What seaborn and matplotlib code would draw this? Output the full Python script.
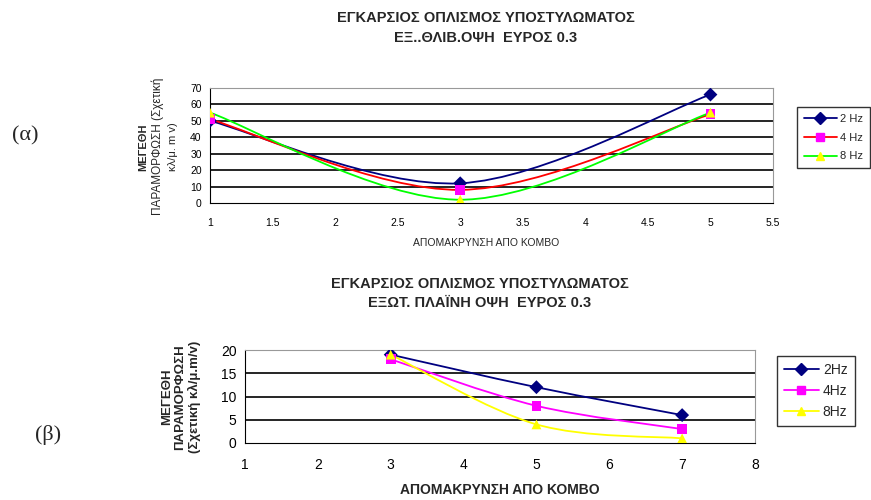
import numpy as np
import pandas as pd
import seaborn as sns
import matplotlib.pyplot as plt
from matplotlib.path import Path
from matplotlib.patches import PathPatch
from matplotlib.lines import Line2D

# panel (a) data
dist_a = [1, 3, 5]
hz2_a = [50, 12, 66]
hz4_a = [51, 8, 54]
hz8_a = [55, 2, 55]

# panel (b) data
dist_b = [3, 5, 7]
hz2_b = [19, 12, 6]
hz4_b = [18, 8, 3]
hz8_b = [19, 4, 1]

freqs = ['2 Hz', '4 Hz', '8 Hz']
title1 = 'ΕΓΚΑΡΣΙΟΣ ΟΠΛΙΣΜΟΣ ΥΠΟΣΤΥΛΩΜΑΤΟΣ'
title_a = 'ΕΞ..ΘΛΙΒ.ΟΨΗ  ΕΥΡΟΣ 0.3'
title_b = 'ΕΞΩΤ. ΠΛΑΪΝΗ ΟΨΗ  ΕΥΡΟΣ 0.3'
xlab = 'ΑΠΟΜΑΚΡΥΝΣΗ ΑΠΟ ΚΟΜΒΟ'

sns.set_style('white')
plt.rcParams['font.family'] = ['Liberation Sans', 'DejaVu Sans']

markers = {'2 Hz': 'D', '4 Hz': 's', '8 Hz': '^'}
mcol = {'2 Hz': '#000080', '4 Hz': '#FF00FF', '8 Hz': '#FFFF00'}
lcol_a = {'2 Hz': '#000080', '4 Hz': '#FF0000', '8 Hz': '#00FF00'}
lcol_b = {'2 Hz': '#000080', '4 Hz': '#FF00FF', '8 Hz': '#FFFF00'}


def smooth_path(x, y):
    # Excel-like smoothed line: cubic bezier through the points
    pts = np.column_stack([x, y]).astype(float)
    ext = np.vstack([pts[0], pts, pts[-1]])
    verts = [pts[0]]
    codes = [Path.MOVETO]
    for i in range(len(pts) - 1):
        p0, p1, p2, p3 = ext[i], ext[i + 1], ext[i + 2], ext[i + 3]
        c1 = p1 + (p2 - p0) / 6
        c2 = p2 - (p3 - p1) / 6
        verts += [c1, c2, p2]
        codes += [Path.CURVE4] * 3
    return Path(verts, codes)


def panel(ax, dist, series, lcol, ylim, step, xlim, xstep, fs):
    df = pd.DataFrame({'dist': dist * 3,
                       'val': series[0] + series[1] + series[2],
                       'freq': [f for f in freqs for _ in dist]})
    for f, s in zip(freqs, series):
        ax.add_patch(PathPatch(smooth_path(dist, s), facecolor='none',
                               edgecolor=lcol[f], lw=1.3, zorder=3))
    sns.scatterplot(data=df, x='dist', y='val', hue='freq', style='freq',
                    markers=markers, palette=mcol, s=50, edgecolor='none',
                    legend=False, ax=ax, zorder=4)
    ax.set_xlim(*xlim)
    ax.set_ylim(*ylim)
    ax.set_yticks(np.arange(ylim[0], ylim[1] + 0.1, step))
    ax.set_xticks(np.arange(xlim[0], xlim[1] + 0.01, xstep))
    ax.set_xticklabels([f'{v:g}' for v in ax.get_xticks()])
    for yv in ax.get_yticks()[1:-1]:
        ax.axhline(yv, color='black', lw=1.2, zorder=1)
    ax.set_xlabel('')
    ax.set_ylabel('')
    for s in ['top', 'right']:
        ax.spines[s].set_color('#999999')
    for s in ['left', 'bottom']:
        ax.spines[s].set_color('black')
    ax.tick_params(axis='both', direction='out', length=3, width=1,
                   labelsize=fs, colors='black', pad=3)
    ax.tick_params(axis='x', pad=8)


fig = plt.figure(figsize=(8.71, 5.0), dpi=100)
ax1 = fig.add_axes([210 / 871, 0.594, 563 / 871, 0.230])
ax2 = fig.add_axes([245 / 871, 0.114, 510 / 871, 0.186])

panel(ax1, dist_a, [hz2_a, hz4_a, hz8_a], lcol_a, (0, 70), 10, (1, 5.5), 0.5, 7.5)
panel(ax2, dist_b, [hz2_b, hz4_b, hz8_b], lcol_b, (0, 20), 5, (1, 8), 1, 10)

# titles
fig.text(486 / 871, 0.963, title1, ha='center', va='center', fontsize=10.5, fontweight='bold')
fig.text(486 / 871, 0.925, title_a, ha='center', va='center', fontsize=10.5, fontweight='bold')
fig.text(480 / 871, 0.433, title1, ha='center', va='center', fontsize=10.5, fontweight='bold')
fig.text(480 / 871, 0.394, title_b, ha='center', va='center', fontsize=10.5, fontweight='bold')

# x labels
fig.text(486 / 871, 0.514, xlab, ha='center', va='center', fontsize=7.5)
fig.text(500 / 871, 0.020, xlab, ha='center', va='center', fontsize=10, fontweight='bold')

# y labels
fig.text(143 / 871, 0.706, 'ΜΕΓΕΘΗ', rotation=90, ha='center', va='center', fontsize=8, fontweight='bold')
fig.text(158 / 871, 0.708, 'ΠΑΡΑΜΟΡΦΩΣΗ (Σχετική', rotation=90, ha='center', va='center', fontsize=8.5)
fig.text(173 / 871, 0.706, 'κλ/μ. m v)', rotation=90, ha='center', va='center', fontsize=8)
fig.text(167 / 871, 0.206, 'ΜΕΓΕΘΗ', rotation=90, ha='center', va='center', fontsize=9.5, fontweight='bold')
fig.text(180 / 871, 0.206, 'ΠΑΡΑΜΟΡΦΩΣΗ', rotation=90, ha='center', va='center', fontsize=9.5, fontweight='bold')
fig.text(194 / 871, 0.206, '(Σχετική κλ/μ.m/v)', rotation=90, ha='center', va='center', fontsize=9.5, fontweight='bold')

# panel letters
fig.text(25 / 871, 0.728, '(α)', ha='center', va='center', fontsize=16, family='Liberation Serif')
fig.text(48 / 871, 0.130, '(β)', ha='center', va='center', fontsize=16, family='Liberation Serif')


def legend_handles(lcol, labels):
    return [Line2D([0], [0], color=lcol[f], lw=1.3, marker=markers[f],
                   markerfacecolor=mcol[f], markeredgecolor=mcol[f],
                   markersize=6, label=lab) for f, lab in zip(freqs, labels)]


leg1 = fig.legend(handles=legend_handles(lcol_a, freqs), loc='upper left',
                  bbox_to_anchor=(797 / 871, 1 - 107 / 500), fontsize=8,
                  frameon=True, fancybox=False, handlelength=3.0,
                  borderpad=0.6, labelspacing=0.8, handletextpad=0.3,
                  borderaxespad=0)
leg1.get_frame().set_edgecolor('black')
leg1.get_frame().set_linewidth(1.0)

leg2 = fig.legend(handles=legend_handles(lcol_b, ['2Hz', '4Hz', '8Hz']), loc='upper left',
                  bbox_to_anchor=(777 / 871, 1 - 356 / 500), fontsize=10,
                  frameon=True, fancybox=False, handlelength=2.5,
                  borderpad=0.5, labelspacing=0.5, handletextpad=0.3,
                  borderaxespad=0)
leg2.get_frame().set_edgecolor('black')
leg2.get_frame().set_linewidth(1.0)

fig.savefig('out.png', dpi=100)
